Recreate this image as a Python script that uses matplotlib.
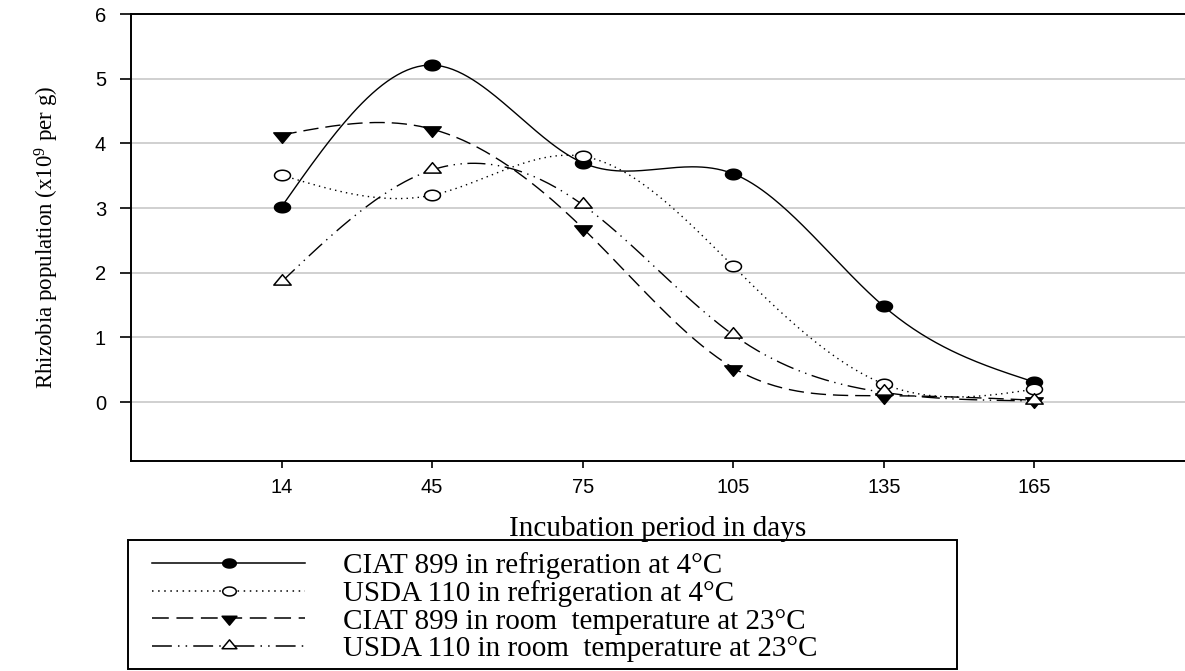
import numpy as np
import matplotlib
matplotlib.use("Agg")
import matplotlib.pyplot as plt
from matplotlib.lines import Line2D
from matplotlib.path import Path
from matplotlib.patches import Rectangle

days = ["14", "45", "75", "105", "135", "165"]
ciat_fridge = [3.02, 5.21, 3.70, 3.53, 1.48, 0.31]
usda_fridge = [3.51, 3.20, 3.80, 2.10, 0.28, 0.20]
ciat_room = [4.13, 4.22, 2.69, 0.53, 0.10, 0.03]
usda_room = [1.86, 3.59, 3.05, 1.04, 0.15, 0.02]

labels = ["CIAT 899 in refrigeration at 4°C",
          "USDA 110 in refrigeration at 4°C",
          "CIAT 899 in room  temperature at 23°C",
          "USDA 110 in room  temperature at 23°C"]


def natural_spline(x, y, n=300):
    x = np.asarray(x, float)
    y = np.asarray(y, float)
    k = len(x)
    h = np.diff(x)
    A = np.zeros((k, k))
    b = np.zeros(k)
    A[0, 0] = 1
    A[-1, -1] = 1
    for i in range(1, k - 1):
        A[i, i - 1] = h[i - 1]
        A[i, i] = 2 * (h[i - 1] + h[i])
        A[i, i + 1] = h[i]
        b[i] = 6 * ((y[i + 1] - y[i]) / h[i] - (y[i] - y[i - 1]) / h[i - 1])
    M = np.linalg.solve(A, b)
    xs = np.linspace(x[0], x[-1], n)
    idx = np.clip(np.searchsorted(x, xs) - 1, 0, k - 2)
    x0, x1 = x[idx], x[idx + 1]
    hh = x1 - x0
    t0 = x1 - xs
    t1 = xs - x0
    ys = (M[idx] * t0 ** 3 / (6 * hh) + M[idx + 1] * t1 ** 3 / (6 * hh)
          + (y[idx] / hh - M[idx] * hh / 6) * t0
          + (y[idx + 1] / hh - M[idx + 1] * hh / 6) * t1)
    return xs, ys


# squashed marker shapes (the reference is stretched horizontally)
_t = np.linspace(0, 2 * np.pi, 41)
ellipse = Path(np.column_stack([np.cos(_t), 0.66 * np.sin(_t)]), closed=True)
tri_down = Path([(-1, 0.3), (1, 0.3), (0, -0.9), (-1, 0.3)], closed=True)
tri_up = Path([(-1, -0.3), (1, -0.3), (0, 0.9), (-1, -0.3)], closed=True)

plt.rcParams['font.family'] = ['Liberation Sans', 'DejaVu Sans']
plt.rcParams['mathtext.fontset'] = 'custom'
plt.rcParams['mathtext.rm'] = 'Liberation Serif'
plt.rcParams['mathtext.it'] = 'Liberation Serif:italic'

W, H = 1185, 671
fig = plt.figure(figsize=(W / 100, H / 100), dpi=100)
ax = fig.add_axes([131 / W, 1 - 461 / H, 1 - 131 / W, (461 - 14) / H])

xpos = np.arange(1, len(days) + 1)

styles = [
    dict(ls='-', marker=ellipse, mfc='black', ms=11.5),
    dict(ls=(0, (1, 3)), marker=ellipse, mfc='white', ms=11.5),
    dict(ls=(0, (11, 5)), marker=tri_down, mfc='black', ms=12.5),
    dict(ls=(0, (13, 4, 1, 4, 1, 4)), marker=tri_up, mfc='white', ms=12.5),
]
series = [ciat_fridge, usda_fridge, ciat_room, usda_room]

handles = []
for vals, st, lab in zip(series, styles, labels):
    xs, ys = natural_spline(xpos, vals)
    ax.plot(xs, ys, color='black', lw=1.0, ls=st['ls'], zorder=3)
    ax.plot(xpos, vals, ls='none', marker=st['marker'], mfc=st['mfc'],
            mec='black', mew=1.1, ms=st['ms'], zorder=4)
    handles.append(Line2D([], [], color='black', lw=1.1, ls=st['ls'],
                          marker=st['marker'], mfc=st['mfc'], mec='black',
                          mew=1.1, ms=st['ms'] * 0.85, label=lab))

ax.set_xlim(0, 7)
ax.set_ylim(-0.91, 6)
ax.set_xticks(xpos)
ax.set_xticklabels(days)
ax.set_yticks(range(0, 7))
ax.yaxis.grid(True, color='#c8c8c8', lw=1.2)
ax.set_axisbelow(True)
ax.spines['right'].set_visible(False)
for s in ['left', 'bottom', 'top']:
    ax.spines[s].set_linewidth(1.4)
ax.tick_params(axis='y', length=8, width=1.2, labelsize=14.5, pad=10)
ax.tick_params(axis='x', length=5, width=1.2, labelsize=14.5, pad=7)

ax.set_ylabel("Rhizobia population (x10$^9$ per g)", family='Liberation Serif',
              fontsize=16.5, labelpad=24)
ax.set_xlabel("Incubation period in days", family='Liberation Serif',
              fontsize=21, labelpad=14)

# legend frame
fig.add_artist(Rectangle((128 / W, 1 - 669 / H), (957 - 128) / W, (669 - 540) / H,
                         transform=fig.transFigure, fill=False,
                         edgecolor='black', lw=1.4))
leg = fig.legend(handles=handles, loc='upper left',
                 bbox_to_anchor=(152 / W, 1 - 552 / H),
                 prop={'family': 'Liberation Serif', 'size': 21},
                 handlelength=5.25, handletextpad=1.3, labelspacing=0.04,
                 borderpad=0, frameon=False, borderaxespad=0)

fig.savefig("out.png", dpi=100)
